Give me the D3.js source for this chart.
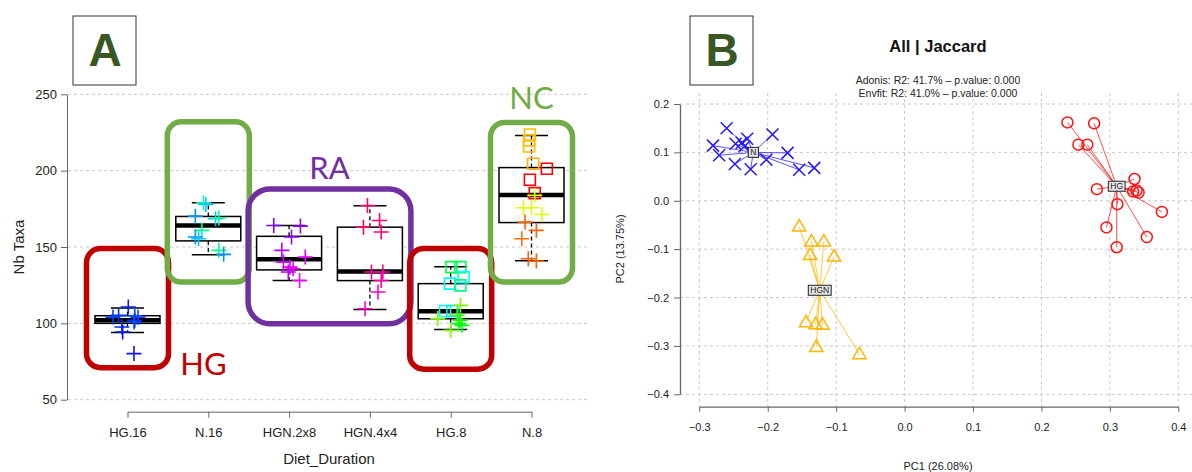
<!DOCTYPE html>
<html>
<head>
<meta charset="utf-8">
<script src="https://cdn.jsdelivr.net/npm/d3@7/dist/d3.min.js"></script>
<style>
  body { margin: 0; background: #fff; }
  svg { display: block; }
  text { font-family: "Liberation Sans", Arial, sans-serif; }
</style>
</head>
<body>
<div id="chart"></div>
<script>
// ---- panel A : number of taxa per diet / duration ----
const cats = ["HG.16", "N.16", "HGN.2x8", "HGN.4x4", "HG.8", "N.8"];
const yTicksA = [50, 100, 150, 200, 250];

// boxplot stats
const boxLow  = [94, 145, 128, 109, 96, 141];
const boxQ1   = [100, 154, 135, 128, 103, 166];
const boxMed  = [102, 164, 142, 134, 108, 184];
const boxQ3   = [105, 170, 157, 163, 126, 202];
const boxHigh = [110, 179, 164, 177, 137, 223];

// individual samples (value, jitter in category units, marker)
const taxaValues = [
  [110.7, 104.1, 105.2, 105, 104, 102, 100.9, 97.6, 94.3, 80.2],
  [179, 177.9, 170.2, 168.5, 169, 160.9, 156.5, 155.4, 147.8, 145.2],
  [164.1, 163.7, 156.5, 147.8, 143.4, 140.1, 136.8, 135.8, 133.6, 128.1],
  [177.2, 167.4, 163, 159.8, 133.6, 133.6, 128.1, 120.5, 109.6],
  [136.8, 136.8, 130.3, 126, 124.9, 108.1, 108.1, 111.8, 103.1, 105.2, 102, 99.8, 95.4, 98.7],
  [223.7, 219.8, 215.8, 204.5, 201.2, 194, 185.3, 183.8, 175.7, 175.7, 171.3, 166.3, 160.9, 155.4, 142.3, 140.8]
];
const taxaJitter = [
  [0.01, -0.18, -0.11, 0.09, 0.13, 0.09, 0.08, -0.07, -0.06, 0.08],
  [-0.06, -0.03, -0.16, 0.09, 0.13, -0.08, -0.16, -0.12, 0.13, 0.19],
  [-0.19, 0.14, 0.03, -0.09, 0.2, -0.07, 0.01, 0.05, -0.01, 0.13],
  [-0.03, 0.12, -0.08, 0.14, 0.02, 0.16, 0.14, 0.1, -0.06],
  [0.01, 0.12, 0.16, -0.01, 0.12, -0.07, 0.02, 0.12, -0.16, 0.08, 0.12, 0.1, 0, 0.14],
  [-0.02, -0.03, -0.03, 0.02, 0.19, -0.02, 0.04, 0.04, -0.1, 0, 0.13, -0.08, 0.06, -0.12, -0.04, 0.06]
];
const taxaShape = [
  Array(10).fill("cross"),
  Array(10).fill("cross"),
  Array(10).fill("cross"),
  Array(9).fill("cross"),
  Array(7).fill("square").concat(Array(7).fill("cross")),
  Array(7).fill("square").concat(Array(9).fill("cross"))
];
const taxaColor = [
  ["#0020ff", "#0045ff", "#0035ff", "#0050ff", "#0040ff", "#0025ff", "#0050ff", "#0030ff", "#0010ff", "#1010ff"],
  ["#00ffb0", "#00c8ff", "#0090ff", "#00c8ff", "#00ff90", "#00ff90", "#0090ff", "#00c8ff", "#00ff90", "#0090ff"],
  ["#8000ff", "#9000ff", "#a000ff", "#b000ff", "#e000ff", "#d000ff", "#e000ff", "#f000ff", "#c000ff", "#ff00ff"],
  ["#ff0070", "#ff0080", "#ff0060", "#ff0070", "#ff0090", "#ff00a0", "#ff00b0", "#ff00c0", "#ff00d0"],
  ["#00ff40", "#00ff60", "#00ffff", "#00ffff", "#00ff80", "#00ffff", "#00e8ff",
   "#80ff00", "#80ff00", "#40ff00", "#20ff00", "#00ff20", "#80ff00", "#00ff00"],
  ["#ffbf00", "#ffbf00", "#ffbf00", "#ffb000", "#ff0000", "#ff0000", "#ff0000",
   "#e0ff00", "#e0ff00", "#e0ff00", "#e0ff00", "#ff6000", "#ff6000", "#ff7000", "#ff6000", "#ff6000"]
];

// highlight frames drawn over panel A
const frameFrom  = ["HG.16", "N.16", "HGN.2x8", "HG.8", "N.8"];
const frameTo    = ["HG.16", "N.16", "HGN.4x4", "HG.8", "N.8"];
const frameTop   = [149, 232, 188, 149, 231.5];
const frameBot   = [71, 127, 99.7, 70, 127];
const frameColor = ["#c00000", "#70ad47", "#7030a0", "#c00000", "#70ad47"];
const groupLabels = ["HG", "NC", "RA"];

// ---- panel B : PCoA ----
const xTicksB = [-0.3, -0.2, -0.1, 0.0, 0.1, 0.2, 0.3, 0.4];
const yTicksB = [-0.4, -0.3, -0.2, -0.1, 0.0, 0.1, 0.2];
const groupsB = ["N", "HG", "HGN"];
const pc1N   = [-0.260, -0.280, -0.271, -0.248, -0.225, -0.247, -0.238, -0.230, -0.234, -0.193, -0.171, -0.202, -0.154, -0.132];
const pc2N   = [0.150, 0.114, 0.094, 0.076, 0.065, 0.118, 0.120, 0.128, 0.112, 0.137, 0.099, 0.085, 0.064, 0.068];
const pc1HG  = [0.238, 0.277, 0.254, 0.267, 0.336, 0.281, 0.334, 0.339, 0.342, 0.311, 0.376, 0.295, 0.354, 0.310];
const pc2HG  = [0.162, 0.160, 0.116, 0.116, 0.045, 0.024, 0.019, 0.021, 0.017, -0.007, -0.023, -0.055, -0.075, -0.096];
const pc1HGN = [-0.154, -0.136, -0.118, -0.138, -0.103, -0.144, -0.130, -0.120, -0.129, -0.066];
const pc2HGN = [-0.053, -0.084, -0.084, -0.112, -0.115, -0.251, -0.255, -0.256, -0.302, -0.317];
const centroid1 = [-0.221, 0.310, -0.124];
const centroid2 = [0.100, 0.030, -0.185];

const W = 1192, H = 472;
const svg = d3.select("#chart").append("svg")
  .attr("width", W).attr("height", H)
  .style("background", "#fff");

// marker paths
function markerPath(shape, s) {
  if (shape === "cross") return `M${-s},0H${s}M0,${-s}V${s}`;
  if (shape === "square") return `M${-s},${-s}H${s}V${s}H${-s}Z`;
  if (shape === "x") return `M${-s},${-s}L${s},${s}M${-s},${s}L${s},${-s}`;
  if (shape === "tri") return `M0,${-s * 1.15}L${s * 1.1},${s * 0.75}L${-s * 1.1},${s * 0.75}Z`;
  return "";
}

function letterBox(x, label) {
  svg.append("rect").attr("x", x).attr("y", 16).attr("width", 63).attr("height", 69)
    .attr("fill", "#fff").attr("stroke", "#333").attr("stroke-width", 1);
  svg.append("text").attr("x", x + 32).attr("y", 66)
    .attr("text-anchor", "middle").attr("font-size", 46).attr("font-weight", "bold")
    .attr("fill", "#385723").text(label);
}

// ================= PANEL A =================
const xA = d3.scalePoint().domain(cats).range([127.5, 531.5]);
const stepA = xA.step();
const yA = d3.scaleLinear().domain([50, 250]).range([399.7, 94.3]);

letterBox(73, "A");

// grid
svg.append("g").selectAll("line").data(yTicksA).enter().append("line")
  .attr("x1", 68).attr("x2", 590)
  .attr("y1", d => yA(d)).attr("y2", d => yA(d))
  .attr("stroke", "#c8c8c8").attr("stroke-dasharray", "3,3");

// axes
const axYA = svg.append("g").attr("transform", "translate(67,0)")
  .call(d3.axisLeft(yA).tickValues(yTicksA).tickSize(6).tickPadding(4).tickSizeOuter(0));
const axXA = svg.append("g").attr("transform", "translate(0,411.7)")
  .call(d3.axisBottom(xA).tickSize(6).tickPadding(10).tickSizeOuter(0));
[axYA, axXA].forEach(g => {
  g.select(".domain").attr("stroke", "#666");
  g.selectAll(".tick line").attr("stroke", "#666");
  g.selectAll("text").attr("font-size", 13).attr("fill", "#222")
    .style("font-family", '"Liberation Sans", Arial, sans-serif');
});

svg.append("text").attr("transform", "translate(24,247) rotate(-90)")
  .attr("text-anchor", "middle").attr("font-size", 15).attr("fill", "#222").text("Nb Taxa");
svg.append("text").attr("x", 329).attr("y", 464)
  .attr("text-anchor", "middle").attr("font-size", 15).attr("fill", "#222").text("Diet_Duration");

// boxes
const boxW = 65, capW = 33;
cats.forEach((c, i) => {
  const cx = xA(c);
  const g = svg.append("g");
  // whiskers
  g.append("line").attr("x1", cx).attr("x2", cx).attr("y1", yA(boxQ3[i])).attr("y2", yA(boxHigh[i]))
    .attr("stroke", "#000").attr("stroke-width", 1.3).attr("stroke-dasharray", "4,3");
  g.append("line").attr("x1", cx).attr("x2", cx).attr("y1", yA(boxQ1[i])).attr("y2", yA(boxLow[i]))
    .attr("stroke", "#000").attr("stroke-width", 1.3).attr("stroke-dasharray", "4,3");
  [boxHigh[i], boxLow[i]].forEach(v => {
    g.append("line").attr("x1", cx - capW / 2).attr("x2", cx + capW / 2)
      .attr("y1", yA(v)).attr("y2", yA(v)).attr("stroke", "#000").attr("stroke-width", 1.5);
  });
  g.append("rect").attr("x", cx - boxW / 2).attr("width", boxW)
    .attr("y", yA(boxQ3[i])).attr("height", yA(boxQ1[i]) - yA(boxQ3[i]))
    .attr("fill", "#fff").attr("stroke", "#000").attr("stroke-width", 1.5);
  g.append("line").attr("x1", cx - boxW / 2).attr("x2", cx + boxW / 2)
    .attr("y1", yA(boxMed[i])).attr("y2", yA(boxMed[i]))
    .attr("stroke", "#000").attr("stroke-width", 4.5);
});

// samples
cats.forEach((c, i) => {
  svg.append("g").selectAll("path").data(taxaValues[i]).enter().append("path")
    .attr("d", (d, j) => markerPath(taxaShape[i][j], taxaShape[i][j] === "square" ? 5.5 : 7.5))
    .attr("transform", (d, j) => `translate(${xA(c) + taxaJitter[i][j] * stepA},${yA(d)})`)
    .attr("fill", "none")
    .attr("stroke", (d, j) => taxaColor[i][j])
    .attr("stroke-width", 1.6);
});

// highlight frames
const pad = 41;
frameFrom.forEach((f, i) => {
  const x0 = xA(f) - pad, x1 = xA(frameTo[i]) + pad;
  const y0 = yA(frameTop[i]), y1 = yA(frameBot[i]);
  svg.append("rect").attr("x", x0).attr("y", y0).attr("width", x1 - x0).attr("height", y1 - y0)
    .attr("rx", f === "HGN.2x8" ? 22 : 14)
    .attr("fill", "none").attr("stroke", frameColor[i]).attr("stroke-width", 5.5);
});

// group labels
const labelX = [xA("HG.16") + 76, xA("N.8"), (xA("HGN.2x8") + xA("HGN.4x4")) / 2];
const labelV = [66.2, 240.4, 194.5];
const labelC = ["#c00000", "#70ad47", "#7030a0"];
groupLabels.forEach((t, i) => {
  svg.append("text").attr("x", labelX[i]).attr("y", yA(labelV[i]))
    .attr("text-anchor", "middle").attr("font-size", 31)
    .style("font-family", "Lato, 'Open Sans', sans-serif")
    .attr("fill", labelC[i]).text(t);
});

// ================= PANEL B =================
const xB = d3.scaleLinear().domain([-0.3, 0.4]).range([699.3, 1178.3]);
const yB = d3.scaleLinear().domain([-0.4, 0.2]).range([394.3, 104]);
const fmt = d3.format(".1f");

letterBox(690, "B");

svg.append("text").attr("x", 938).attr("y", 52).attr("text-anchor", "middle")
  .attr("font-size", 16.5).attr("font-weight", "bold").attr("fill", "#111").text("All | Jaccard");
svg.append("text").attr("x", 938).attr("y", 84).attr("text-anchor", "middle")
  .attr("font-size", 10.5).attr("fill", "#222").text("Adonis: R2: 41.7% \u2013 p.value: 0.000");
svg.append("text").attr("x", 938).attr("y", 97).attr("text-anchor", "middle")
  .attr("font-size", 10.5).attr("fill", "#222").text("Envfit: R2: 41.0% \u2013 p.value: 0.000");

// grid
svg.append("g").selectAll("line").data(xTicksB).enter().append("line")
  .attr("x1", d => xB(d)).attr("x2", d => xB(d)).attr("y1", 93).attr("y2", 406)
  .attr("stroke", "#c8c8c8").attr("stroke-dasharray", "3,3");
svg.append("g").selectAll("line").data(yTicksB).enter().append("line")
  .attr("x1", 680).attr("x2", W).attr("y1", d => yB(d)).attr("y2", d => yB(d))
  .attr("stroke", "#c8c8c8").attr("stroke-dasharray", "3,3");

const axYB = svg.append("g").attr("transform", "translate(680,0)")
  .call(d3.axisLeft(yB).tickValues(yTicksB).tickFormat(fmt).tickSize(6).tickPadding(5).tickSizeOuter(0));
const axXB = svg.append("g").attr("transform", "translate(0,406.7)")
  .call(d3.axisBottom(xB).tickValues(xTicksB).tickFormat(fmt).tickSize(5).tickPadding(12).tickSizeOuter(0));
[axYB, axXB].forEach(g => {
  g.select(".domain").attr("stroke", "#666").attr("stroke-width", 1.3);
  g.selectAll(".tick line").attr("stroke", "#666");
  g.selectAll("text").attr("font-size", 11).attr("fill", "#222")
    .style("font-family", '"Liberation Sans", Arial, sans-serif');
});

svg.append("text").attr("x", 938).attr("y", 470).attr("text-anchor", "middle")
  .attr("font-size", 11).attr("fill", "#222").text("PC1 (26.08%)");
svg.append("text").attr("transform", "translate(624,249) rotate(-90)")
  .attr("text-anchor", "middle").attr("font-size", 11).attr("fill", "#222").text("PC2 (13.75%)");

const groupPc1 = [pc1N, pc1HG, pc1HGN];
const groupPc2 = [pc2N, pc2HG, pc2HGN];
const groupCol = ["#2418ff", "#ff1010", "#ffb400"];
const groupShape = ["x", "circle", "tri"];

groupsB.forEach((gName, k) => {
  const g = svg.append("g");
  const cx = xB(centroid1[k]), cy = yB(centroid2[k]);
  g.selectAll("line").data(groupPc1[k]).enter().append("line")
    .attr("x1", cx).attr("y1", cy)
    .attr("x2", d => xB(d)).attr("y2", (d, j) => yB(groupPc2[k][j]))
    .attr("stroke", groupCol[k]).attr("stroke-opacity", 0.75).attr("stroke-width", 1);
  if (groupShape[k] === "circle") {
    g.selectAll("circle").data(groupPc1[k]).enter().append("circle")
      .attr("cx", d => xB(d)).attr("cy", (d, j) => yB(groupPc2[k][j])).attr("r", 5.5)
      .attr("fill", "none").attr("stroke", groupCol[k]).attr("stroke-width", 1.5);
  } else {
    g.selectAll("path").data(groupPc1[k]).enter().append("path")
      .attr("d", markerPath(groupShape[k], 6))
      .attr("transform", (d, j) => `translate(${xB(d)},${yB(groupPc2[k][j])})`)
      .attr("fill", "none").attr("stroke", groupCol[k]).attr("stroke-width", 1.5);
  }
});

// centroid labels
groupsB.forEach((gName, k) => {
  const cx = xB(centroid1[k]), cy = yB(centroid2[k]);
  const t = svg.append("text").attr("x", cx).attr("y", cy + 3)
    .attr("text-anchor", "middle").attr("font-size", 8.5).attr("fill", "#222").text(gName);
  const bb = t.node().getBBox();
  svg.insert("rect", () => t.node())
    .attr("x", bb.x - 2).attr("y", cy - 5).attr("width", bb.width + 4).attr("height", 10)
    .attr("fill", "#e4e4e4").attr("stroke", "#222").attr("stroke-width", 1);
});
</script>
</body>
</html>
